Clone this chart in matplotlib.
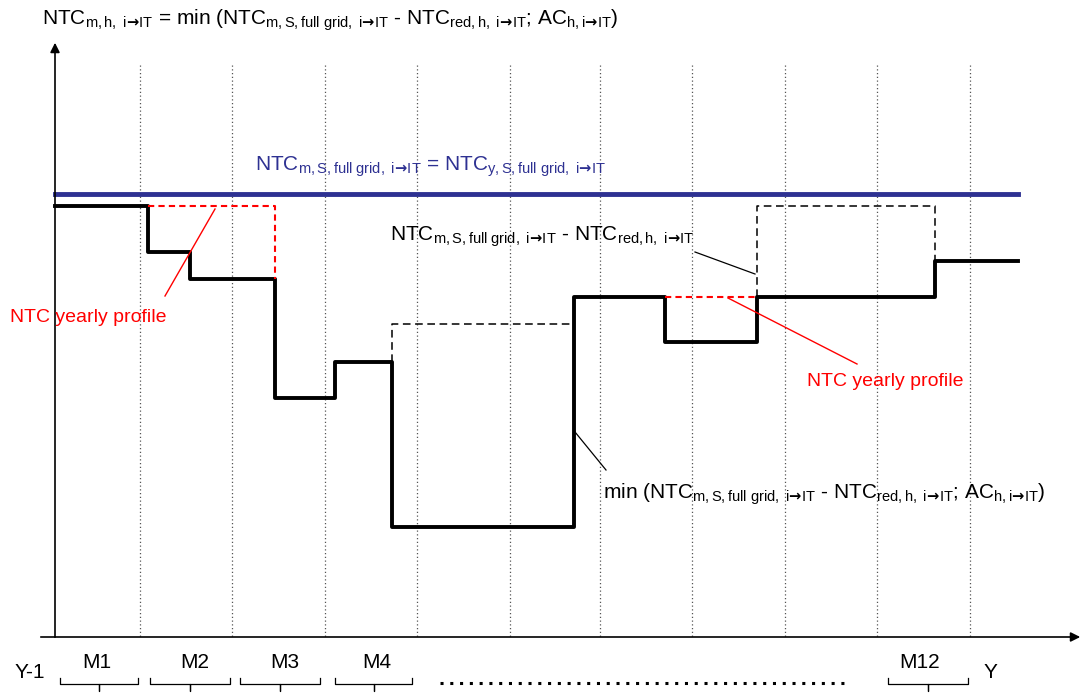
import matplotlib
matplotlib.use("Agg")
import matplotlib.pyplot as plt

plt.rcParams['font.family'] = ['Liberation Sans', 'DejaVu Sans']
plt.rcParams['mathtext.fontset'] = 'custom'
plt.rcParams['mathtext.rm'] = 'Liberation Sans'
plt.rcParams['mathtext.it'] = 'Liberation Sans'

# schematic data (pixel-like units, y downward)
grid_x = [140, 232, 325, 417, 510, 600, 692, 785, 877, 970]
step_x = [55, 148, 190, 275, 335, 392, 574, 665, 757, 935, 1018]
step_y = [206, 252, 279, 398, 362, 527, 297, 342, 297, 261]
blue_y = 194
red1_x = [148, 275, 275]; red1_y = [206, 206, 279]
red2_x = [665, 757]; red2_y = [297, 297]
dash1_x = [392, 392, 574]; dash1_y = [362, 324, 324]
dash2_x = [757, 757, 935, 935]; dash2_y = [297, 206, 206, 261]
month_labels = ['M1', 'M2', 'M3', 'M4', 'M12']
month_x = [97, 195, 285, 377, 920]
brace_spans = [(60, 138), (150, 230), (240, 320), (335, 412), (888, 968)]

fig = plt.figure(figsize=(10.84, 6.97), dpi=100)
ax = fig.add_axes([0, 0, 1, 1])
ax.set_xlim(0, 1084); ax.set_ylim(697, 0); ax.axis('off')

for gx in grid_x:
    ax.plot([gx, gx], [65, 637], color='#555555', lw=0.9, ls=(0, (1, 2)))
ax.annotate('', xy=(55, 40), xytext=(55, 640), annotation_clip=False,
            arrowprops=dict(arrowstyle='-|>', color='black', lw=1.2, mutation_scale=14))
ax.annotate('', xy=(1083, 637), xytext=(38, 637), annotation_clip=False,
            arrowprops=dict(arrowstyle='-|>', color='black', lw=1.2, mutation_scale=14))

ax.plot([55, 1018], [blue_y, blue_y], color='#2e3192', lw=3.5)
ax.step(step_x, step_y + [step_y[-1]], where='post', color='black', lw=2.8)
ax.plot(red1_x, red1_y, color='red', lw=1.5, ls=(0, (3, 2)))
ax.plot(red2_x, red2_y, color='red', lw=1.5, ls=(0, (3, 2)))
ax.plot(dash1_x, dash1_y, color='black', lw=1.1, ls=(0, (5, 3)))
ax.plot(dash2_x, dash2_y, color='black', lw=1.1, ls=(0, (5, 3)))

ax.plot([215, 165], [209, 296], color='red', lw=1)
ax.plot([728, 857], [298, 364], color='red', lw=1)
ax.plot([695, 755], [252, 274], color='black', lw=0.9)
ax.plot([575, 606], [432, 470], color='black', lw=0.9)

fs = 15
sub = lambda s: r'$_{\mathrm{' + s + '}}$'
arr = r'i\!\mathbf{\rightarrow}\!IT'
ax.text(42, 20, 'NTC' + sub(r'm,h,\ ' + arr) + ' = min (NTC' + sub(r'm,S,full\ grid,\ ' + arr) +
        ' - NTC' + sub(r'red,h,\ ' + arr) + '; AC' + sub(r'h,' + arr) + ')', fontsize=fs, va='center')
ax.text(255, 167, 'NTC' + sub(r'm,S,full\ grid,\ ' + arr) + ' = NTC' + sub(r'y,S,full\ grid,\ ' + arr),
        fontsize=fs, va='center', color='#2e3192')
ax.text(390, 237, 'NTC' + sub(r'm,S,full\ grid,\ ' + arr) + ' - NTC' + sub(r'red,h,\ ' + arr),
        fontsize=fs, va='center')
ax.text(603, 494, 'min (NTC' + sub(r'm,S,full\ grid,\ ' + arr) + ' - NTC' + sub(r'red,h,\ ' + arr) +
        '; AC' + sub(r'h,' + arr) + ')', fontsize=fs, va='center')
ax.text(88, 318, 'NTC yearly profile', color='red', fontsize=14, ha='center', va='center')
ax.text(885, 381, 'NTC yearly profile', color='red', fontsize=14, ha='center', va='center')

ax.text(30, 672, 'Y-1', fontsize=fs, ha='center', va='center')
ax.text(990, 672, 'Y', fontsize=fs, ha='center', va='center')
for lab, mx in zip(month_labels, month_x):
    ax.text(mx, 662, lab, fontsize=fs, ha='center', va='center')
for a, b in brace_spans:
    m = (a + b) / 2
    ax.plot([a, a, m, m, m, b, b], [678, 684, 684, 691, 684, 684, 678], color='black', lw=0.9)
ax.plot([440, 850], [683, 683], color='black', lw=2.2, ls=(0, (1, 2.2)))

fig.savefig('out.png', dpi=100)
